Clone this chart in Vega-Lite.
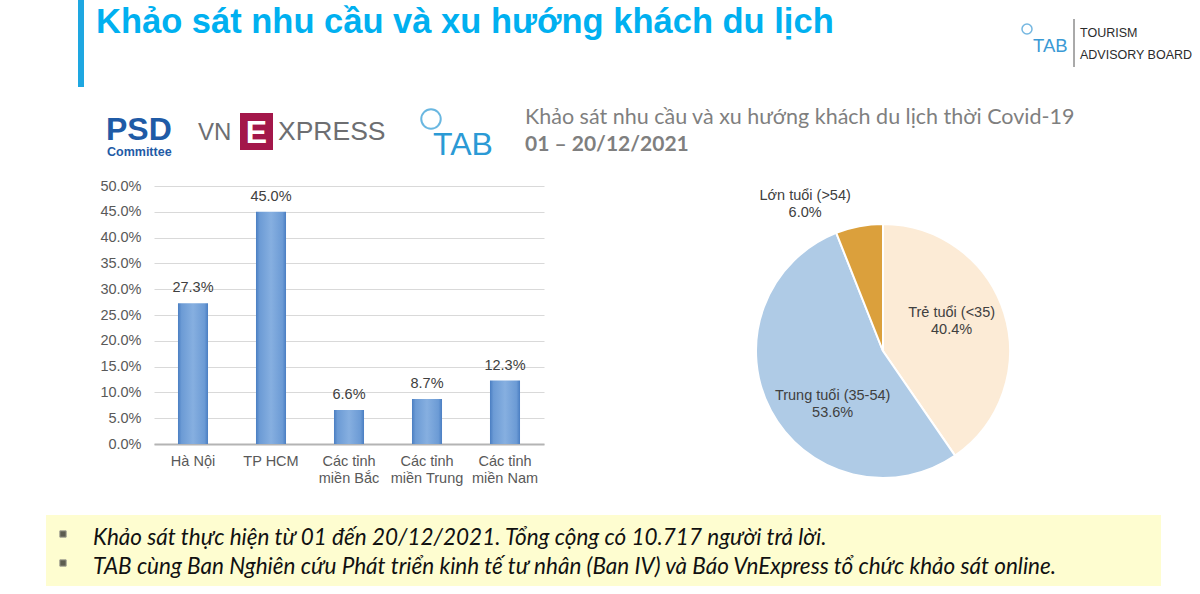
{
  "$schema": "https://vega.github.io/schema/vega-lite/v6.json",
  "background": "#ffffff",
  "padding": 0,
  "spacing": 0,
  "config": {
    "view": {"stroke": null},
    "font": "Liberation Sans",
    "text": {"font": "Liberation Sans"}
  },
  "vconcat": [
    {
      "width": 1200,
      "height": 178,
      "data": {"values": [{}]},
      "layer": [
        {"mark": {"type": "rect", "color": "#1ea7e1"}, "encoding": {"x": {"value": 77}, "x2": {"value": 83}, "y": {"value": 0}, "y2": {"value": 87}}},
        {"mark": {"type": "text", "text": "Khảo sát nhu cầu và xu hướng khách du lịch", "font": "Liberation Sans", "fontSize": 34.5, "fontWeight": "bold", "color": "#00b0f0", "align": "left", "baseline": "alphabetic"}, "encoding": {"x": {"value": 95}, "y": {"value": 33}}},
        {"mark": {"type": "point", "shape": "circle", "filled": false, "size": 100, "stroke": "#3b9ad5", "strokeWidth": 1.5}, "encoding": {"x": {"value": 1026}, "y": {"value": 29}}},
        {"mark": {"type": "text", "text": "TAB", "font": "Liberation Sans", "fontSize": 18.5, "color": "#3b9ad5", "align": "left", "baseline": "alphabetic"}, "encoding": {"x": {"value": 1032}, "y": {"value": 52}}},
        {"mark": {"type": "rule", "color": "#555555", "strokeWidth": 1}, "encoding": {"x": {"value": 1073}, "y": {"value": 19}, "y2": {"value": 67}}},
        {"mark": {"type": "text", "text": "TOURISM", "font": "Liberation Sans", "fontSize": 12.5, "color": "#2b2b2b", "align": "left", "baseline": "alphabetic"}, "encoding": {"x": {"value": 1079}, "y": {"value": 37}}},
        {"mark": {"type": "text", "text": "ADVISORY BOARD", "font": "Liberation Sans", "fontSize": 12.5, "color": "#2b2b2b", "align": "left", "baseline": "alphabetic"}, "encoding": {"x": {"value": 1079}, "y": {"value": 59}}},
        {"mark": {"type": "text", "text": "PSD", "font": "Liberation Sans", "fontSize": 32, "fontWeight": "bold", "color": "#1f5ba6", "align": "left", "baseline": "alphabetic"}, "encoding": {"x": {"value": 105}, "y": {"value": 140}}},
        {"mark": {"type": "text", "text": "Committee", "font": "Liberation Sans", "fontSize": 12.5, "fontWeight": "bold", "color": "#1f5ba6", "align": "left", "baseline": "alphabetic"}, "encoding": {"x": {"value": 106}, "y": {"value": 156}}},
        {"mark": {"type": "text", "text": "VN", "font": "Liberation Sans", "fontSize": 24, "color": "#6d6e71", "align": "left", "baseline": "alphabetic"}, "encoding": {"x": {"value": 197}, "y": {"value": 140}}},
        {"mark": {"type": "rect", "color": "#a3174a"}, "encoding": {"x": {"value": 239}, "x2": {"value": 272}, "y": {"value": 113}, "y2": {"value": 150}}},
        {"mark": {"type": "text", "text": "E", "font": "Liberation Sans", "fontSize": 32, "fontWeight": "bold", "color": "#ffffff", "align": "center", "baseline": "alphabetic"}, "encoding": {"x": {"value": 255.5}, "y": {"value": 143}}},
        {"mark": {"type": "text", "text": "XPRESS", "font": "Liberation Sans", "fontSize": 26.5, "color": "#6d6e71", "align": "left", "baseline": "alphabetic"}, "encoding": {"x": {"value": 277}, "y": {"value": 140}}},
        {"mark": {"type": "point", "shape": "circle", "filled": false, "size": 380, "stroke": "#2b9ad5", "strokeWidth": 2}, "encoding": {"x": {"value": 430}, "y": {"value": 119}}},
        {"mark": {"type": "text", "text": "TAB", "font": "Liberation Sans", "fontSize": 32, "color": "#2b9ad5", "align": "left", "baseline": "alphabetic"}, "encoding": {"x": {"value": 432}, "y": {"value": 155}}},
        {"mark": {"type": "text", "text": "Khảo sát nhu cầu và xu hướng khách du lịch thời Covid-19", "font": "Lato", "fontSize": 21.5, "color": "#7f7f7f", "align": "left", "baseline": "alphabetic"}, "encoding": {"x": {"value": 524}, "y": {"value": 124}}},
        {"mark": {"type": "text", "text": "01 – 20/12/2021", "font": "Lato", "fontSize": 21, "fontWeight": "bold", "color": "#7f7f7f", "align": "left", "baseline": "alphabetic"}, "encoding": {"x": {"value": 524}, "y": {"value": 151}}}
      ]
    },
    {
      "concat": [
        {"width": 98, "height": 1, "data": {"values": [{}]}, "mark": {"type": "rule", "opacity": 0, "strokeWidth": 0}, "encoding": {}},
        {
          "width": 390,
          "height": 258,
          "data": {"values": [
            {"region": "Hà Nội", "share": 0.273},
            {"region": "TP HCM", "share": 0.45},
            {"region": "Các tỉnh miền Bắc", "share": 0.066},
            {"region": "Các tỉnh miền Trung", "share": 0.087},
            {"region": "Các tỉnh miền Nam", "share": 0.123}
          ]},
          "encoding": {
            "x": {"field": "region", "type": "nominal", "sort": null,
              "scale": {"paddingInner": 0.615, "paddingOuter": 0.3075},
              "axis": {"title": null, "labelAngle": 0, "labelFontSize": 14.5, "labelColor": "#595959", "labelFont": "Liberation Sans", "labelPadding": 10, "labelExpr": "split(replace(datum.label, 'tỉnh ', 'tỉnh|'), '|')", "labelLineHeight": 17, "domainColor": "#b4b4b4", "domainWidth": 2, "ticks": false, "grid": false}},
            "y": {"field": "share", "type": "quantitative",
              "scale": {"domain": [0, 0.5], "nice": false},
              "axis": {"title": null, "format": ".1%", "values": [0, 0.05, 0.1, 0.15, 0.2, 0.25, 0.3, 0.35, 0.4, 0.45, 0.5], "labelFontSize": 14.5, "labelColor": "#595959", "labelFont": "Liberation Sans", "labelPadding": 13, "ticks": false, "domain": false, "gridColor": "#d9d9d9", "gridWidth": 1}}
          },
          "layer": [
            {"mark": {"type": "bar", "color": {"gradient": "linear", "x1": 0, "y1": 0, "x2": 1, "y2": 0, "stops": [
              {"offset": 0, "color": "#4a7ec2"},
              {"offset": 0.12, "color": "#6c9bd5"},
              {"offset": 0.5, "color": "#86afe0"},
              {"offset": 0.88, "color": "#6c9bd5"},
              {"offset": 1, "color": "#4a7ec2"}]}}},
            {"mark": {"type": "text", "baseline": "middle", "dy": -15, "fontSize": 14.5, "color": "#404040"}, "encoding": {"text": {"field": "share", "type": "quantitative", "format": ".1%"}}}
          ]
        },
        {"width": 153, "height": 1, "data": {"values": [{}]}, "mark": {"type": "rule", "opacity": 0, "strokeWidth": 0}, "encoding": {}},
        {
          "spacing": 0,
          "vconcat": [
            {"width": 1, "height": 1, "data": {"values": [{}]}, "mark": {"type": "rule", "opacity": 0, "strokeWidth": 0}, "encoding": {}},
            {
              "width": 254,
              "height": 254,
              "data": {"values": [
                {"group": "Trẻ tuổi (<35)", "value": 0.404},
                {"group": "Trung tuổi (35-54)", "value": 0.536},
                {"group": "Lớn tuổi (>54)", "value": 0.06}
              ]},
              "encoding": {
                "theta": {"field": "value", "type": "quantitative", "stack": true},
                "order": {"field": "group", "sort": "descending"},
                "color": {"field": "group", "type": "nominal", "legend": null,
                  "scale": {"domain": ["Trẻ tuổi (<35)", "Trung tuổi (35-54)", "Lớn tuổi (>54)"], "range": ["#fcebd6", "#afcbe6", "#dba03c"]}}
              },
              "layer": [
                {"mark": {"type": "arc", "outerRadius": 127, "stroke": "#ffffff", "strokeWidth": 2}},
                {"transform": [{"calculate": "datum.group === 'Trẻ tuổi (<35)' ? datum.group + '\\n' + format(datum.value, '.1%') : ''", "as": "lbl"}],
                  "mark": {"type": "text", "radius": 75, "dx": -3, "dy": -16, "lineBreak": "\n", "lineHeight": 17, "fontSize": 14.5, "baseline": "middle", "align": "center"},
                  "encoding": {"text": {"field": "lbl"}, "color": {"value": "#404040"}}},
                {"transform": [{"calculate": "datum.group === 'Trung tuổi (35-54)' ? datum.group + '\\n' + format(datum.value, '.1%') : ''", "as": "lbl"}],
                  "mark": {"type": "text", "radius": 65, "dx": 7, "dy": 14, "lineBreak": "\n", "lineHeight": 17, "fontSize": 14.5, "baseline": "middle", "align": "center"},
                  "encoding": {"text": {"field": "lbl"}, "color": {"value": "#404040"}}},
                {"transform": [{"calculate": "datum.group === 'Lớn tuổi (>54)' ? datum.group + '\\n' + format(datum.value, '.1%') : ''", "as": "lbl"}],
                  "mark": {"type": "text", "radius": 154, "dx": -49, "dy": -4, "lineBreak": "\n", "lineHeight": 17, "fontSize": 14.5, "baseline": "middle", "align": "center"},
                  "encoding": {"text": {"field": "lbl"}, "color": {"value": "#404040"}}},
                {"data": {"values": [{}]}, "mark": {"type": "rule", "color": "#8c8c8c", "strokeWidth": 1}, "encoding": {"x": {"value": 97}, "x2": {"value": 102}, "y": {"value": -26}, "y2": {"value": -26}}},
                {"data": {"values": [{}]}, "mark": {"type": "rule", "color": "#8c8c8c", "strokeWidth": 1}, "encoding": {"x": {"value": 102}, "x2": {"value": 102}, "y": {"value": -26}, "y2": {"value": 3}}}
              ]
            }
          ]
        }
      ],
      "columns": 4,
      "align": "none",
      "spacing": 0
    },
    {"width": 1, "height": 28, "data": {"values": [{}]}, "mark": {"type": "rule", "opacity": 0, "strokeWidth": 0}, "encoding": {}},
    {
      "spacing": 0,
      "hconcat": [
        {"width": 45, "height": 1, "data": {"values": [{}]}, "mark": {"type": "rule", "opacity": 0, "strokeWidth": 0}, "encoding": {}},
        {
          "width": 1115,
          "height": 71,
          "view": {"fill": "#fefdd0", "stroke": null},
          "data": {"values": [
            {"line": 1, "note": "Khảo sát thực hiện từ 01 đến 20/12/2021. Tổng cộng có 10.717 người trả lời."},
            {"line": 2, "note": "TAB cùng Ban Nghiên cứu Phát triển kinh tế tư nhân (Ban IV) và Báo VnExpress tổ chức khảo sát online."}
          ]},
          "encoding": {"y": {"field": "line", "type": "ordinal", "axis": null, "scale": {"range": [23, 52], "padding": 0}}},
          "layer": [
            {"mark": {"type": "point", "shape": "square", "filled": true, "size": 40, "color": "#1a1a1a", "stroke": "#777777", "strokeWidth": 1, "yOffset": -4}, "encoding": {"x": {"value": 17}}},
            {"mark": {"type": "text", "align": "left", "baseline": "middle", "font": "Lato", "fontStyle": "italic", "fontSize": 22.5, "color": "#111111"}, "encoding": {"x": {"value": 47}, "text": {"field": "note"}}}
          ]
        }
      ]
    }
  ]
}
